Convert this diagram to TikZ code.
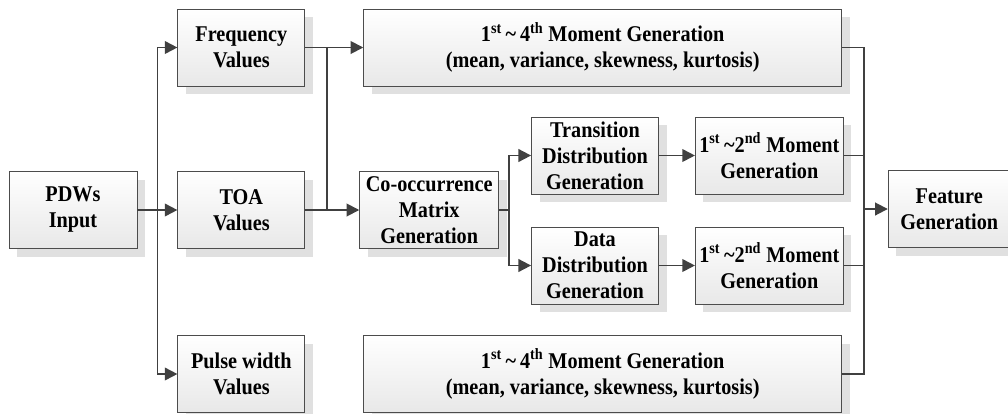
\documentclass[tikz,border=0pt]{standalone}
\usepackage{fontspec}
\setmainfont[FakeStretch=0.9]{Liberation Serif}
\usetikzlibrary{positioning, shadows, arrows.meta}

\tikzset{
  blk/.style={draw=black!70, line width=0.6pt, top color=white, bottom color=black!9,
    minimum height=1.925cm, inner sep=1pt, align=center,
    font=\fontsize{16}{18.5}\selectfont\bfseries,
    drop shadow={shadow xshift=5.7pt, shadow yshift=-5.7pt, fill=black!12, opacity=1}},
  conn/.style={draw=black!75, line width=1.3pt},
}

\begin{document}
\begin{tikzpicture}[>={Triangle[length=9pt, width=9pt]}]
	\useasboundingbox (0,0) rectangle (25.2,-10.325);
	\node[blk, minimum width=3.2cm] (pdw) at (1.825,-5.25) {PDWs\\Input};
	\node[blk, minimum width=3.175cm, right=1cm of pdw] (toa) {TOA\\Values};
	\node[blk, minimum width=3.175cm, right=1cm of pdw, yshift=4.0625cm] (freq) {Frequency\\Values};
	\node[blk, minimum width=3.175cm, right=1cm of pdw, yshift=-4.1cm] (pw) {Pulse width\\Values};
	\node[blk, minimum width=11.95cm, right=1.45cm of freq] (m4a) {1\textsuperscript{st}\,\textasciitilde\,4\textsuperscript{th} Moment Generation\\(mean, variance, skewness, kurtosis)};
	\node[blk, minimum width=11.95cm, right=1.45cm of pw] (m4b) {1\textsuperscript{st}\,\textasciitilde\,4\textsuperscript{th} Moment Generation\\(mean, variance, skewness, kurtosis)};
	\node[blk, minimum width=3.475cm, right=1.35cm of toa] (cooc) {Co-occurrence\\Matrix\\Generation};
	\node[blk, minimum width=3.175cm, right=0.8cm of cooc, yshift=1.3625cm] (trans) {Transition\\Distribution\\Generation};
	\node[blk, minimum width=3.175cm, right=0.8cm of cooc, yshift=-1.3875cm] (data) {Data\\Distribution\\Generation};
	\node[blk, minimum width=3.7cm, right=0.9cm of trans] (m2a) {1\textsuperscript{st}\,\textasciitilde2\textsuperscript{nd} Moment\\Generation};
	\node[blk, minimum width=3.7cm, right=0.9cm of data] (m2b) {1\textsuperscript{st}\,\textasciitilde2\textsuperscript{nd} Moment\\Generation};
	\node[blk, minimum width=3.05cm, right=1.1cm of m2a, yshift=-1.3375cm] (feat) {Feature\\Generation};
	
	% branch points
	\coordinate[right=0.5cm of pdw.east] (s1);
	\coordinate[right=0.55cm of freq.east] (s2);
	\coordinate[right=0.25cm of cooc.east] (s3);
	\coordinate[right=0.5cm of m2a.east] (s4);
	
	\draw[conn, ->] (pdw) -- (toa);
	\draw[conn, ->] (s1) |- (freq);
	\draw[conn, ->] (s1) |- (pw);
	\draw[conn, ->] (freq) -- (m4a);
	\draw[conn] (s2) -- (s2 |- toa);
	\draw[conn, ->] (toa) -- (cooc);
	\draw[conn] (cooc) -- (s3);
	\draw[conn, ->] (s3) |- (trans);
	\draw[conn, ->] (s3) |- (data);
	\draw[conn, ->] (trans) -- (m2a);
	\draw[conn, ->] (data) -- (m2b);
	\draw[conn] (m4a) -| (s4) |- (m4b);
	\draw[conn] (m2a) -- (s4);
	\draw[conn] (m2b) -- (s4 |- m2b);
	\draw[conn, ->] (s4 |- feat) -- (feat);
\end{tikzpicture}
\end{document}
